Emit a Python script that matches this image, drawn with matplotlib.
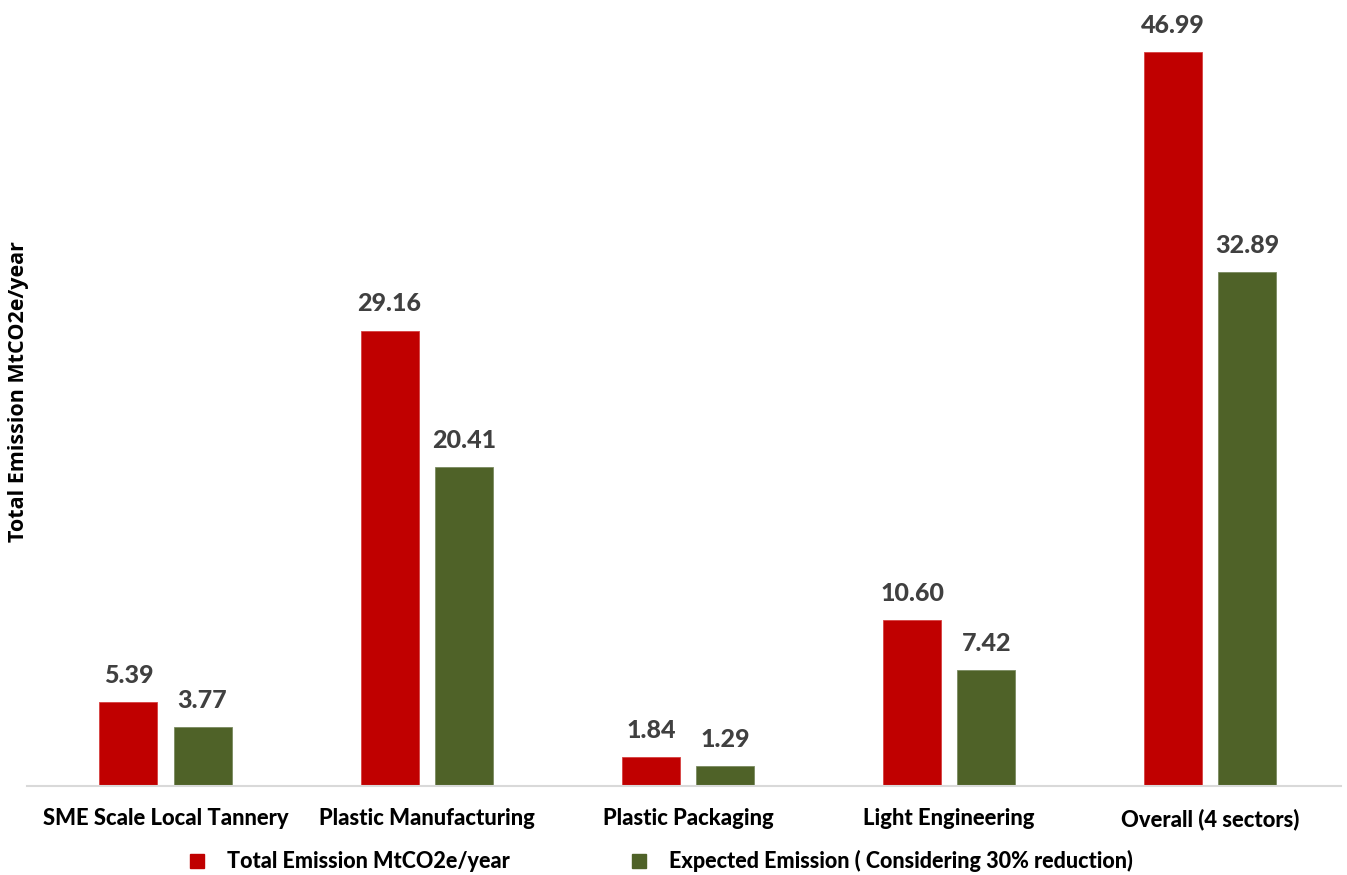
import matplotlib.pyplot as plt
import numpy as np
from matplotlib.lines import Line2D

sectors = ["SME Scale Local Tannery", "Plastic Manufacturing", "Plastic Packaging",
           "Light Engineering", "Overall (4 sectors)"]
total = [5.39, 29.16, 1.84, 10.60, 46.99]
expected = [3.77, 20.41, 1.29, 7.42, 32.89]
series_names = ["Total Emission MtCO2e/year", "Expected Emission ( Considering 30% reduction)"]

RED = "#C00000"
GREEN = "#4F6228"
LABEL = "#404040"
FONT = ["Lato", "DejaVu Sans"]

W, H = 1347, 875
fig = plt.figure(figsize=(W / 100, H / 100), dpi=100)
ax = fig.add_axes([27 / W, 1 - 786 / H, (1341 - 27) / W, (786 - 5) / H])

x = np.arange(len(sectors))
width = 0.222
off = 0.142
b1 = ax.bar(x - off, total, width, color=RED, edgecolor="#d64040", linewidth=0.6)
b2 = ax.bar(x + off, expected, width, color=GREEN, edgecolor="#7a8a60", linewidth=0.6)

for bars, vals in ((b1, total), (b2, expected)):
    for rect, v in zip(bars, vals):
        ax.annotate(f"{v:.2f}", (rect.get_x() + rect.get_width() / 2, rect.get_height()),
                    xytext=(0, 11), textcoords="offset points", ha="center", va="bottom",
                    fontsize=18, fontweight="black", color=LABEL, family=FONT)

ax.set_xlim(-0.53, 4.5)
ax.set_ylim(0, 50)
ax.set_xticks(x)
ax.set_xticklabels(sectors, fontsize=15.8, fontweight="black", family=FONT)
ax.tick_params(axis="x", length=0, pad=16)
ax.set_yticks([])
for s in ["top", "right", "left"]:
    ax.spines[s].set_visible(False)
ax.spines["bottom"].set_color("#d9d9d9")
ax.spines["bottom"].set_linewidth(1.5)

fig.text(19 / W, 1 - 392 / H, "Total Emission MtCO2e/year", rotation=90, ha="center", va="center",
         fontsize=15.5, fontweight="bold", family=["Open Sans", "DejaVu Sans"])

handles = [Line2D([], [], marker="s", linestyle="none", markersize=10, color=c) for c in (RED, GREEN)]
fig.legend(handles, series_names, loc="center", bbox_to_anchor=(661 / W, 1 - 861 / H), ncol=2,
           frameon=False, columnspacing=5.6, handlelength=0.8, handletextpad=1.0,
           prop={"family": FONT, "weight": "black", "size": 15.5})

fig.savefig("out.png", dpi=100)
